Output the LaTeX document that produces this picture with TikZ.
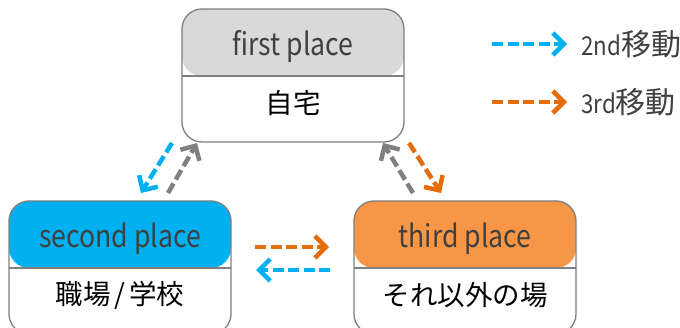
\documentclass[tikz,border=0pt]{standalone}
\usepackage{fontspec}
\setmainfont{Noto Sans CJK JP}
\newfontfamily\headfont[FakeStretch=0.86]{Noto Sans CJK JP}
\usetikzlibrary{arrows.meta}
\definecolor{bordc}{HTML}{7F7F7F}
\definecolor{grayh}{HTML}{D9D9D9}
\definecolor{blueh}{HTML}{00B0F0}
\definecolor{orangeh}{HTML}{F79646}
\definecolor{oarrow}{HTML}{E46C0A}
\definecolor{garrow}{HTML}{808080}
\definecolor{htext}{HTML}{404040}
\tikzset{
  placebox/.style={draw=bordc, line width=1.3pt, rounded corners=20pt, fill=white,
    minimum width=222pt, minimum height=133pt, inner sep=0pt,
    path picture={
      \fill[#1] (path picture bounding box.north west) rectangle ([yshift=-67pt]path picture bounding box.north east);
      \draw[bordc, line width=1.3pt] ([yshift=-67pt]path picture bounding box.north west) -- ([yshift=-67pt]path picture bounding box.north east);
    }},
  headtxt/.style={text=htext, font=\headfont\fontsize{31}{34}\selectfont, inner sep=0pt},
  bodytxt/.style={text=black, font=\fontsize{27.5}{30}\selectfont, inner sep=0pt},
  legtxt/.style={text=htext, font=\fontsize{30}{32}\selectfont, inner sep=0pt, anchor=west},
  movearrow/.style={line width=4.5pt, dash pattern=on 11pt off 4.5pt, -{Straight Barb[length=11pt,width=22pt,line width=4.5pt]}},
}
\begin{document}
\begin{tikzpicture}[x=1pt,y=-1pt]
\useasboundingbox (0,0) rectangle (680,328);
\clip (0,0) rectangle (680,328);
% boxes
\node[placebox=grayh] (first) at (293,75.5) {};
\node[placebox=blueh] (second) at (120,267.5) {};
\node[placebox=orangeh] (third) at (465,267.5) {};
% texts
\node[headtxt] (firsth) at (293,47) {first place};
\node[bodytxt] (firstb) at (293,103) {自宅};
\node[headtxt] (secondh) at (120,239) {second place};
\node[bodytxt] (secondb) at (120,295) {職場\hspace{4pt}/\hspace{4pt}学校};
\node[headtxt] (thirdh) at (465,239) {third place};
\node[bodytxt] (thirdb) at (465,295) {それ以外の場};
% arrow end points
\coordinate (b1s) at (172,143); \coordinate (b1e) at (141,193);
\coordinate (g1s) at (168,193); \coordinate (g1e) at (197,143);
\coordinate (g2s) at (413,193); \coordinate (g2e) at (383,143);
\coordinate (o1s) at (409,143); \coordinate (o1e) at (441,193);
\coordinate (o2s) at (255,247); \coordinate (o2e) at (329,247);
\coordinate (b2s) at (330,270); \coordinate (b2e) at (256,270);
\draw[movearrow, blueh] (b1s) -- (b1e);
\draw[movearrow, garrow] (g1s) -- (g1e);
\draw[movearrow, garrow] (g2s) -- (g2e);
\draw[movearrow, oarrow] (o1s) -- (o1e);
\draw[movearrow, oarrow] (o2s) -- (o2e);
\draw[movearrow, blueh] (b2s) -- (b2e);
% legend
\coordinate (l1s) at (492,44); \coordinate (l1e) at (567,44);
\coordinate (l2s) at (492,102); \coordinate (l2e) at (567,102);
\draw[movearrow, blueh] (l1s) -- (l1e);
\draw[movearrow, oarrow] (l2s) -- (l2e);
\node[legtxt] (leg1) at (581,44) {{\headfont\fontsize{26}{30}\selectfont 2nd}移動};
\node[legtxt] (leg2) at (581,102) {{\headfont\fontsize{26}{30}\selectfont 3rd}移動};
\end{tikzpicture}
\end{document}
